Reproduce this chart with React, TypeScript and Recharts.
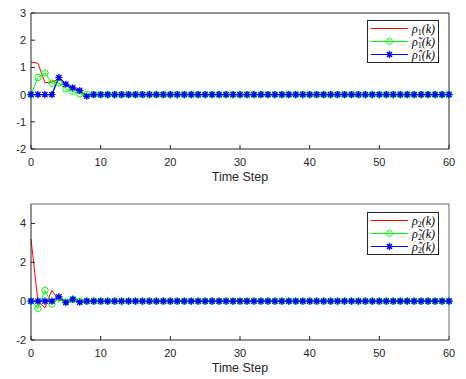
import React from 'react';
import { LineChart, Line, XAxis, YAxis, Legend } from 'recharts';

// time steps k = 0..60
const steps = [
  0, 1, 2, 3, 4, 5, 6, 7, 8, 9,
  10, 11, 12, 13, 14, 15, 16, 17, 18, 19,
  20, 21, 22, 23, 24, 25, 26, 27, 28, 29,
  30, 31, 32, 33, 34, 35, 36, 37, 38, 39,
  40, 41, 42, 43, 44, 45, 46, 47, 48, 49,
  50, 51, 52, 53, 54, 55, 56, 57, 58, 59,
  60,
];

// panel 1
const rho1 = [
  1.2, 1.15, 0.43, 0.47, 0.57, 0.33, 0.2, 0.1, 0, 0,
  0, 0, 0, 0, 0, 0, 0, 0, 0, 0,
  0, 0, 0, 0, 0, 0, 0, 0, 0, 0,
  0, 0, 0, 0, 0, 0, 0, 0, 0, 0,
  0, 0, 0, 0, 0, 0, 0, 0, 0, 0,
  0, 0, 0, 0, 0, 0, 0, 0, 0, 0,
  0,
];
const rho1Tilde = [
  0, 0.63, 0.8, 0.42, 0.43, 0.21, 0.12, 0.03, 0, 0,
  0, 0, 0, 0, 0, 0, 0, 0, 0, 0,
  0, 0, 0, 0, 0, 0, 0, 0, 0, 0,
  0, 0, 0, 0, 0, 0, 0, 0, 0, 0,
  0, 0, 0, 0, 0, 0, 0, 0, 0, 0,
  0, 0, 0, 0, 0, 0, 0, 0, 0, 0,
  0,
];
const rho1Hat = [
  0, 0, 0, 0, 0.63, 0.38, 0.25, 0.15, -0.06, 0,
  0, 0, 0, 0, 0, 0, 0, 0, 0, 0,
  0, 0, 0, 0, 0, 0, 0, 0, 0, 0,
  0, 0, 0, 0, 0, 0, 0, 0, 0, 0,
  0, 0, 0, 0, 0, 0, 0, 0, 0, 0,
  0, 0, 0, 0, 0, 0, 0, 0, 0, 0,
  0,
];

// panel 2
const rho2 = [
  3.2, -0.02, -0.34, 0.56, 0.05, 0.02, 0, 0, 0, 0,
  0, 0, 0, 0, 0, 0, 0, 0, 0, 0,
  0, 0, 0, 0, 0, 0, 0, 0, 0, 0,
  0, 0, 0, 0, 0, 0, 0, 0, 0, 0,
  0, 0, 0, 0, 0, 0, 0, 0, 0, 0,
  0, 0, 0, 0, 0, 0, 0, 0, 0, 0,
  0,
];
const rho2Tilde = [
  0, -0.37, 0.55, -0.15, 0.15, -0.04, 0.08, 0, 0, 0,
  0, 0, 0, 0, 0, 0, 0, 0, 0, 0,
  0, 0, 0, 0, 0, 0, 0, 0, 0, 0,
  0, 0, 0, 0, 0, 0, 0, 0, 0, 0,
  0, 0, 0, 0, 0, 0, 0, 0, 0, 0,
  0, 0, 0, 0, 0, 0, 0, 0, 0, 0,
  0,
];
const rho2Hat = [
  0, 0, 0, 0, 0.22, -0.07, 0.1, -0.05, 0, 0,
  0, 0, 0, 0, 0, 0, 0, 0, 0, 0,
  0, 0, 0, 0, 0, 0, 0, 0, 0, 0,
  0, 0, 0, 0, 0, 0, 0, 0, 0, 0,
  0, 0, 0, 0, 0, 0, 0, 0, 0, 0,
  0, 0, 0, 0, 0, 0, 0, 0, 0, 0,
  0,
];

const xTicks = [0, 10, 20, 30, 40, 50, 60];
const yTicks1 = [-2, -1, 0, 1, 2, 3];
const yTicks2 = [-2, 0, 2, 4];

const RED = '#ff0000';
const GREEN = '#00ff00';
const BLUE = '#0000ff';
const AXIS = '#262626';

const tickFont = { fontFamily: 'Arial, "Liberation Sans", sans-serif', fontSize: 11, fill: AXIS };

const data1 = steps.map((k, i) => ({ k, a: rho1[i], b: rho1Tilde[i], c: rho1Hat[i] }));
const data2 = steps.map((k, i) => ({ k, a: rho2[i], b: rho2Tilde[i], c: rho2Hat[i] }));

const CircleDot = (props: any) => {
  const { cx, cy, index } = props;
  return <circle key={`g-${index}`} cx={cx} cy={cy} r={3.2} fill="none" stroke={GREEN} strokeWidth={1} />;
};

const StarDot = (props: any) => {
  const { cx, cy, index } = props;
  const s = 3.6;
  const d = 2.6;
  return (
    <g key={`b-${index}`} stroke={BLUE} strokeWidth={1.2}>
      <circle cx={cx} cy={cy} r={2.3} fill={BLUE} stroke="none" />
      <line x1={cx - s} y1={cy} x2={cx + s} y2={cy} />
      <line x1={cx} y1={cy - s} x2={cx} y2={cy + s} />
      <line x1={cx - d} y1={cy - d} x2={cx + d} y2={cy + d} />
      <line x1={cx - d} y1={cy + d} x2={cx + d} y2={cy - d} />
    </g>
  );
};

const LegendBox = ({ idx }: { idx: string }) => {
  const rows = [
    { color: RED, accent: '', marker: 'none' },
    { color: GREEN, accent: '~', marker: 'circle' },
    { color: BLUE, accent: '^', marker: 'star' },
  ];
  return (
    <svg width={72} height={43} style={{ display: 'block' }}>
      <rect x={0.5} y={0.5} width={71} height={42} fill="#fff" stroke={AXIS} strokeWidth={1} />
      {rows.map((r, i) => {
        const y = 8.5 + i * 13;
        return (
          <g key={i}>
            <line x1={4} y1={y} x2={41} y2={y} stroke={r.color} strokeWidth={1} />
            {r.marker === 'circle' && <circle cx={22.5} cy={y} r={3} fill="none" stroke={r.color} />}
            {r.marker === 'star' && <StarDot cx={22.5} cy={y} index={0} />}
            <text
              x={45}
              y={y + 4}
              fontFamily='"Liberation Serif", "DejaVu Serif", serif'
              fontStyle="italic"
              fontSize={12}
              fill="#000"
            >
              {r.accent === '~' ? 'ρ\u0303' : r.accent === '^' ? 'ρ\u0302' : 'ρ'}
              <tspan fontSize={8} dy={2} fontStyle="normal">{idx}</tspan>
              <tspan dy={-2}>(k)</tspan>
            </text>
          </g>
        );
      })}
    </svg>
  );
};

type PanelProps = {
  data: any[];
  domain: [number, number];
  yTicks: number[];
  margin: { top: number; right: number; bottom: number; left: number };
  height: number;
  idx: string;
  legendTop: number;
  frame: string;
};

const Panel = ({ data, domain, yTicks, margin, height, idx, legendTop, frame }: PanelProps) => (
  <LineChart width={466} height={height} data={data} margin={margin}>
    <XAxis
      dataKey="k"
      type="number"
      domain={[0, 60]}
      ticks={xTicks}
      height={1}
      tickSize={-4}
      tickMargin={13}
      tick={tickFont}
      axisLine={{ stroke: AXIS }}
      tickLine={{ stroke: AXIS }}
      label={{
        value: 'Time Step',
        position: 'bottom',
        offset: 22,
        style: { fontFamily: 'Arial, "Liberation Sans", sans-serif', fontSize: 12.5, fill: AXIS },
      }}
    />
    <XAxis
      xAxisId="top"
      orientation="top"
      dataKey="k"
      type="number"
      domain={[0, 60]}
      ticks={xTicks}
      height={1}
      tickSize={-4}
      tick={false}
      axisLine={{ stroke: frame }}
      tickLine={{ stroke: frame }}
    />
    <YAxis
      type="number"
      domain={domain}
      ticks={yTicks}
      width={1}
      tickSize={-4}
      tickMargin={9}
      tick={tickFont}
      axisLine={{ stroke: AXIS }}
      tickLine={{ stroke: AXIS }}
      interval={0}
    />
    <YAxis
      yAxisId="right"
      orientation="right"
      type="number"
      domain={domain}
      ticks={yTicks}
      width={1}
      tickSize={-4}
      tick={false}
      axisLine={{ stroke: frame }}
      tickLine={{ stroke: frame }}
    />
    <Line dataKey="a" stroke={RED} strokeWidth={1} dot={false} isAnimationActive={false} />
    <Line dataKey="b" stroke={GREEN} strokeWidth={1} dot={CircleDot} isAnimationActive={false} />
    <Line dataKey="c" stroke={BLUE} strokeWidth={1.3} dot={StarDot} isAnimationActive={false} />
    <Legend
      layout="vertical"
      align="center"
      verticalAlign="middle"
      wrapperStyle={{ left: 367, top: legendTop, width: 72, height: 43 }}
      content={() => <LegendBox idx={idx} />}
    />
  </LineChart>
);

export default function App() {
  return (
    <div style={{ position: 'absolute', left: 0, top: 0, width: 466, height: 379, background: '#fff' }}>
      <Panel
        data={data1}
        domain={[-2, 3]}
        yTicks={yTicks1}
        margin={{ top: 12, right: 16, bottom: 40, left: 30 }}
        height={190}
        idx="1"
        legendTop={20}
        frame={AXIS}
      />
      <Panel
        data={data2}
        domain={[-2, 5]}
        yTicks={yTicks2}
        margin={{ top: 13, right: 16, bottom: 38, left: 30 }}
        height={189}
        idx="2"
        legendTop={22}
        frame="#6b6b6b"
      />
    </div>
  );
}
